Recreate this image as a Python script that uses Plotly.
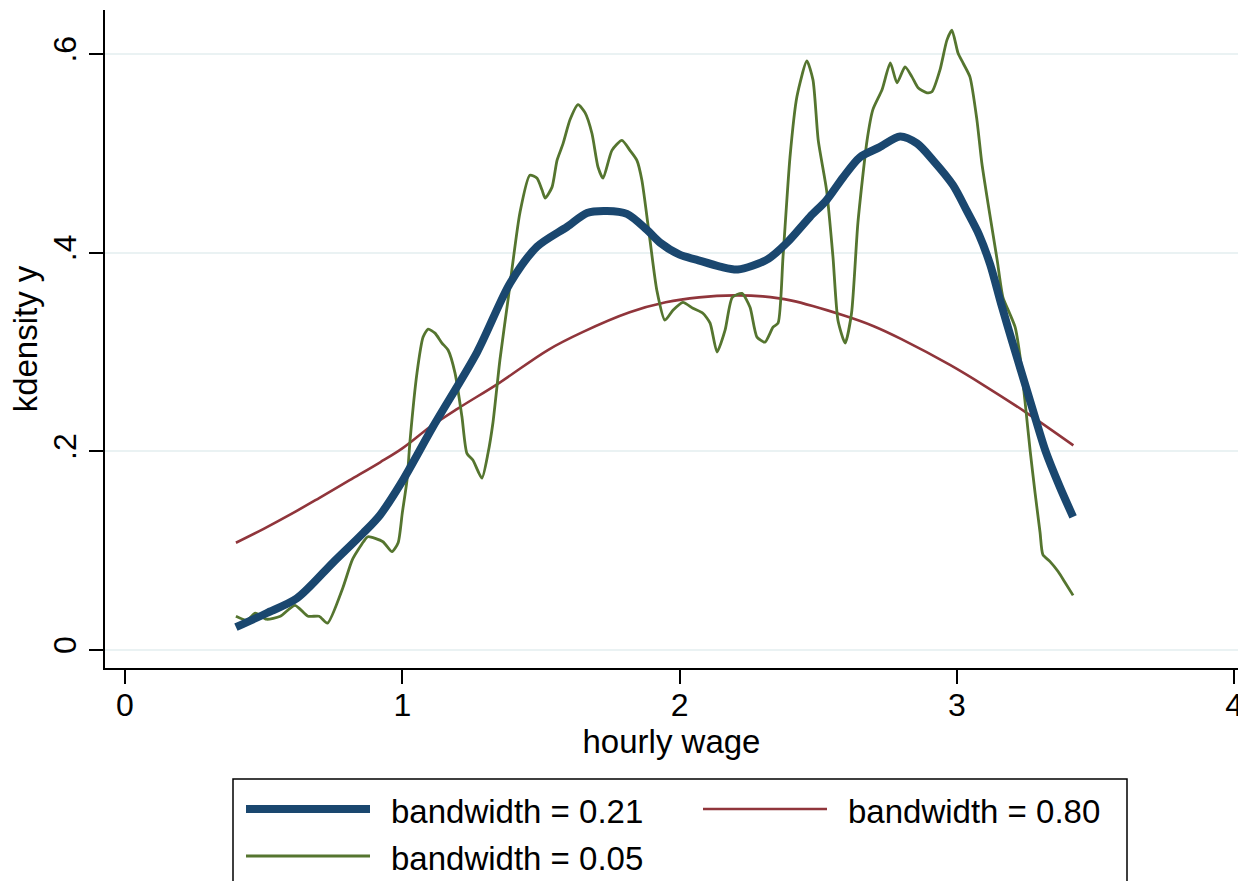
import plotly.graph_objects as go

# ---- data ----
x_bw021 = [0.40, 0.51, 0.62, 0.75, 0.86, 0.92, 1.00, 1.11, 1.27, 1.388, 1.486, 1.594,
           1.666, 1.738, 1.81, 1.882, 1.93, 2.00, 2.06, 2.146, 2.21, 2.315, 2.387, 2.47, 2.53, 2.59,
           2.65, 2.72, 2.795, 2.856, 2.914, 2.986, 3.036, 3.08, 3.12, 3.16, 3.20, 3.24, 3.28, 3.32,
           3.37, 3.419]
y_bw021 = [0.023, 0.037, 0.052, 0.088, 0.118, 0.136, 0.170, 0.2245, 0.300, 0.369, 0.406, 0.426,
           0.440, 0.442, 0.439, 0.423, 0.410, 0.398, 0.393, 0.386, 0.383, 0.393, 0.410, 0.436, 0.453, 0.476,
           0.496, 0.506, 0.517, 0.510, 0.493, 0.468, 0.442, 0.418, 0.388, 0.348, 0.310, 0.273, 0.236, 0.200,
           0.165, 0.134]

x_bw080 = [0.40, 0.50, 0.60, 0.70, 0.81, 0.92, 1.00, 1.10, 1.20, 1.35, 1.525, 1.65, 1.82, 1.95, 2.07,
           2.20, 2.30, 2.40, 2.59, 2.70, 2.80, 2.975, 3.10, 3.25, 3.42]
y_bw080 = [0.108, 0.122, 0.137, 0.153, 0.171, 0.189, 0.203, 0.2245, 0.243, 0.269, 0.302, 0.320, 0.340, 0.350, 0.355,
           0.357, 0.356, 0.352, 0.337, 0.326, 0.313, 0.287, 0.266, 0.239, 0.206]

x_bw005 = [0.40, 0.44, 0.47, 0.51, 0.56, 0.613, 0.66, 0.70, 0.73, 0.786, 0.82, 0.86, 0.876, 0.93, 0.963,
           0.985, 1.00, 1.017, 1.028, 1.053, 1.075, 1.093, 1.118, 1.143, 1.165, 1.19, 1.215, 1.233, 1.255,
           1.287, 1.309, 1.327, 1.352, 1.381, 1.424, 1.46, 1.486, 1.504, 1.515, 1.54, 1.558, 1.58, 1.605,
           1.634, 1.659, 1.684, 1.706, 1.724, 1.756, 1.792, 1.821, 1.846, 1.864, 1.893, 1.918, 1.947, 1.976,
           2.012, 2.048, 2.084, 2.11, 2.135, 2.164, 2.19, 2.225, 2.254, 2.279, 2.308, 2.337, 2.355, 2.373,
           2.398, 2.423, 2.459, 2.481, 2.50, 2.53, 2.553, 2.571, 2.597, 2.62, 2.643, 2.676, 2.697, 2.73,
           2.76, 2.784, 2.813, 2.838, 2.86, 2.892, 2.91, 2.939, 2.964, 2.982, 3.004, 3.022, 3.047, 3.072,
           3.09, 3.112, 3.145, 3.166, 3.19, 3.21, 3.228, 3.245, 3.264, 3.282, 3.30, 3.31, 3.336, 3.365,
           3.39, 3.419]
y_bw005 = [0.034, 0.030, 0.037, 0.031, 0.034, 0.045, 0.034, 0.034, 0.027, 0.063, 0.091, 0.109, 0.114, 0.109, 0.099,
           0.108, 0.138, 0.171, 0.211, 0.279, 0.315, 0.323, 0.319, 0.309, 0.302, 0.279, 0.235, 0.198, 0.191,
           0.173, 0.198, 0.229, 0.292, 0.352, 0.440, 0.478, 0.475, 0.463, 0.455, 0.466, 0.493, 0.510, 0.534,
           0.549, 0.541, 0.520, 0.486, 0.475, 0.503, 0.513, 0.503, 0.493, 0.473, 0.413, 0.362, 0.332, 0.342,
           0.350, 0.344, 0.339, 0.329, 0.300, 0.322, 0.355, 0.359, 0.345, 0.315, 0.310, 0.325, 0.329, 0.396,
           0.496, 0.557, 0.593, 0.574, 0.513, 0.463, 0.396, 0.332, 0.309, 0.339, 0.430, 0.513, 0.544, 0.564,
           0.591, 0.571, 0.587, 0.577, 0.566, 0.561, 0.562, 0.584, 0.614, 0.624, 0.601, 0.591, 0.577, 0.534,
           0.490, 0.450, 0.393, 0.355, 0.339, 0.325, 0.295, 0.252, 0.201, 0.158, 0.118, 0.096, 0.089, 0.079,
           0.068, 0.055]

series_names = ["bandwidth = 0.21", "bandwidth = 0.80", "bandwidth = 0.05"]
x_ticks = [0, 1, 2, 3, 4]
y_ticks = [0, 0.2, 0.4, 0.6]
y_tick_text = ["0", ".2", ".4", ".6"]

NAVY = "#1a476f"
MAROON = "#90353b"
GREEN = "#55752f"
GRID = "#eaf2f3"
FONT = "Liberation Sans, Arial, Helvetica, sans-serif"
FS = 33
FS_TICK = 32

W, H = 1238, 881
ML, MR, MT, MB = 105, 0, 10, 213

fig = go.Figure()
fig.add_trace(go.Scatter(x=x_bw080, y=y_bw080, mode="lines", name=series_names[1],
                         line=dict(color=MAROON, width=2.6, shape="spline", smoothing=1.0), showlegend=False))
fig.add_trace(go.Scatter(x=x_bw005, y=y_bw005, mode="lines", name=series_names[2],
                         line=dict(color=GREEN, width=2.8, shape="spline", smoothing=0.6), showlegend=False))
fig.add_trace(go.Scatter(x=x_bw021, y=y_bw021, mode="lines", name=series_names[0],
                         line=dict(color=NAVY, width=8, shape="spline", smoothing=0.8), showlegend=False))


def px_to_paper(px, py):
    return (px - ML) / (W - ML - MR), (H - MB - py) / (H - MT - MB)


# legend box (manual, Stata style)
bx0, by0 = px_to_paper(233, 779)
bx1, by1 = px_to_paper(1127, 905)
fig.add_shape(type="rect", xref="paper", yref="paper", x0=bx0, x1=bx1, y0=by1, y1=by0,
              line=dict(color="black", width=1.5), fillcolor="white", layer="above")

legend_items = [
    (series_names[0], NAVY, 8, 246, 370, 809, 389),
    (series_names[1], MAROON, 2.6, 703, 827, 809, 846),
    (series_names[2], GREEN, 2.8, 246, 370, 856, 389),
]
for name, col, wdt, lx0, lx1, ly, tx in legend_items:
    a0, b0 = px_to_paper(lx0, ly)
    a1, _ = px_to_paper(lx1, ly)
    fig.add_shape(type="line", xref="paper", yref="paper", x0=a0, x1=a1, y0=b0, y1=b0,
                  line=dict(color=col, width=wdt), layer="above")
    ta, tb = px_to_paper(tx, ly + 2)
    fig.add_annotation(xref="paper", yref="paper", x=ta, y=tb, text=name, showarrow=False,
                       xanchor="left", yanchor="middle", font=dict(family=FONT, size=FS, color="black"))

fig.update_layout(
    width=W, height=H,
    margin=dict(l=ML, r=MR, t=MT, b=MB, autoexpand=False),
    paper_bgcolor="white", plot_bgcolor="white",
    font=dict(family=FONT, size=FS, color="black"),
    showlegend=False,
)
fig.update_xaxes(
    range=[(ML - 125) / 277.3, (W - 125) / 277.3],
    tickvals=x_ticks, ticktext=[str(v) for v in x_ticks],
    showgrid=False, zeroline=False,
    showline=True, linecolor="black", linewidth=1.5,
    ticks="outside", ticklen=14, tickwidth=1.5, tickcolor="black",
    ticklabeloverflow="allow", ticklabelstandoff=-6,
    tickfont=dict(family=FONT, size=FS_TICK, color="black"),
    title=dict(text="hourly wage", font=dict(family=FONT, size=FS, color="black"), standoff=4),
    automargin=False,
)
fig.update_yaxes(
    range=[(650 - 668) / 993.3, (650 - 10) / 993.3],
    tickvals=y_ticks, ticktext=y_tick_text, tickangle=-90,
    showgrid=True, gridcolor=GRID, gridwidth=2, zeroline=False,
    showline=True, linecolor="black", linewidth=1.5,
    ticks="outside", ticklen=14, tickwidth=1.5, tickcolor="black",
    tickfont=dict(family=FONT, size=FS_TICK, color="black"),
    title=dict(text="kdensity y", font=dict(family=FONT, size=FS, color="black"), standoff=0),
    automargin=False,
)

fig.write_html("out.html")
